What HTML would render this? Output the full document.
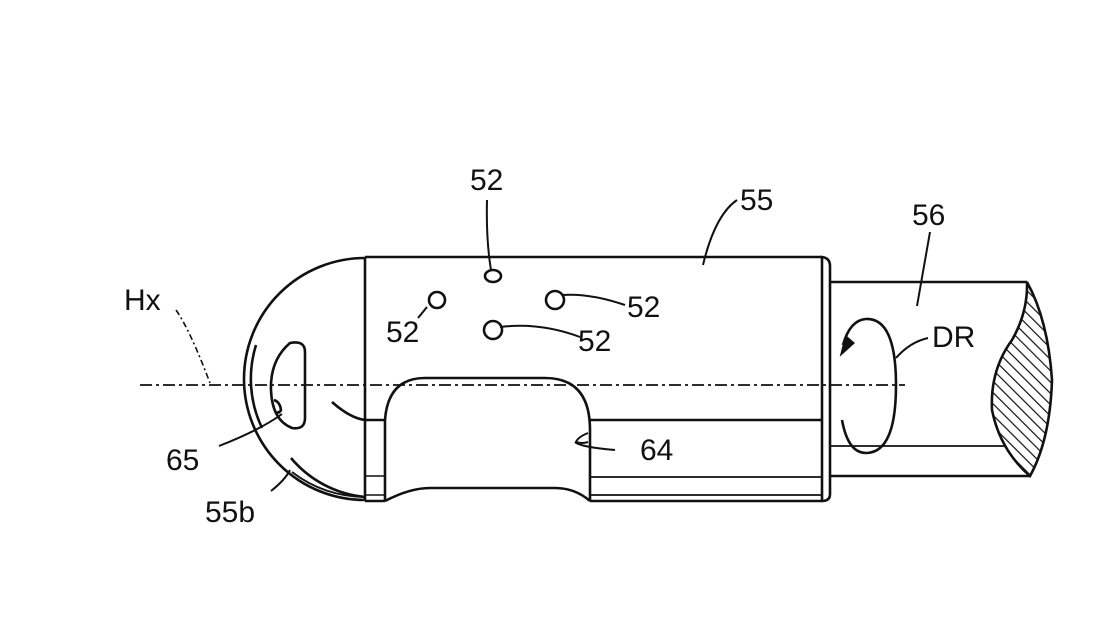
<!DOCTYPE html>
<html><head><style>body{margin:0;background:#fff}svg{display:block}text{font-family:"Liberation Sans",sans-serif;font-size:30px;fill:#111}</style></head><body>
<svg width="1100" height="619" viewBox="0 0 1100 619" xmlns="http://www.w3.org/2000/svg">
<defs><pattern id="h" width="8" height="8" patternUnits="userSpaceOnUse" patternTransform="rotate(-45)"><line x1="0" y1="0" x2="0" y2="8" stroke="#111" stroke-width="2.4"/></pattern></defs>
<g fill="none" stroke="#111" stroke-width="2.6">
<!-- cap -->
<path d="M365 258 A121 121 0 0 0 365 500"/>
<path d="M256 345 A114 114 0 0 0 262 428"/>
<path d="M291 458 A110 110 0 0 0 365 497"/>
<path d="M292 472 A120 120 0 0 0 365 497" stroke-width="1.8"/>
<path d="M332 402 Q350 418 365 420"/>
<path d="M290 343 Q305 340 305 352 L305 418 Q305 430 292 428 Q272 420 271 390 Q270 360 290 343Z"/>
<path d="M274 400 q6 2 7 10 q-2 4 -6 2"/>
<!-- body -->
<line x1="365" y1="257" x2="822" y2="257"/>
<line x1="365" y1="257" x2="365" y2="501"/>
<line x1="365" y1="501" x2="385" y2="501"/>
<line x1="385" y1="420" x2="385" y2="501"/>
<line x1="365" y1="420" x2="385" y2="420"/>
<line x1="365" y1="476" x2="385" y2="476" stroke-width="1.6"/>
<line x1="365" y1="495" x2="385" y2="495" stroke-width="1.6"/>
<path d="M385 420 Q388 378 425 378 L545 378 Q590 378 590 430 L590 501"/>
<path d="M385 501 Q410 488 430 488 L555 488 Q575 488 590 501"/>
<line x1="590" y1="420" x2="822" y2="420"/>
<line x1="590" y1="477" x2="822" y2="477" stroke-width="1.8"/>
<line x1="590" y1="495" x2="822" y2="495" stroke-width="1.8"/>
<line x1="590" y1="501" x2="822" y2="501"/>
<path d="M822 257 Q830 258 830 266 L830 494 Q830 501 822 501 Z"/>
<!-- shaft -->
<line x1="830" y1="282" x2="1027" y2="282"/>
<line x1="830" y1="476" x2="1030" y2="476"/>
<line x1="830" y1="446" x2="1005" y2="446" stroke-width="1.8"/>
<path d="M1027 282 Q1048 320 1052 380 Q1050 440 1030 476 Q1000 450 992 410 Q990 370 1012 340 Q1028 312 1027 282Z" fill="url(#h)"/>
<!-- DR arrow -->
<path d="M843 345 Q850 320 866 319 Q896 318 896 385 Q896 453 866 453 Q848 453 842 420"/>
<path d="M842 353 L846 337 L853 343 Z" fill="#111"/>
<path d="M896 358 Q910 342 928 338" stroke-width="2"/>
<!-- holes -->
<ellipse cx="493" cy="276" rx="8" ry="6"/>
<circle cx="437" cy="300" r="8"/>
<circle cx="555" cy="300" r="9"/>
<circle cx="493" cy="330" r="9"/>
<!-- leaders -->
<g stroke-width="2">
<path d="M487 200 Q486 240 491 270"/>
<path d="M427 307 L418 318"/>
<path d="M562 295 Q590 293 625 305"/>
<path d="M500 327 Q540 322 580 337"/>
<path d="M703 265 Q715 215 737 200"/>
<path d="M917 306 Q925 260 930 232"/>
<path d="M575 442 Q580 447 615 450" />
<path d="M588 433 q-10 4 -12 9 q6 2 12 0"/>
<path d="M219 446 Q260 430 282 414"/>
<path d="M271 491 Q285 480 290 470"/>
</g>
<path d="M176 310 Q190 330 210 383" stroke-width="1.6" stroke-dasharray="6,3,2,3"/>
<line x1="140" y1="385" x2="905" y2="385" stroke-width="1.8" stroke-dasharray="12,4,3,4"/>
</g>
<text x="124" y="310">Hx</text>
<text x="470" y="190">52</text>
<text x="386" y="342">52</text>
<text x="627" y="317">52</text>
<text x="578" y="351">52</text>
<text x="740" y="210">55</text>
<text x="912" y="225">56</text>
<text x="932" y="347">DR</text>
<text x="640" y="460">64</text>
<text x="166" y="470">65</text>
<text x="205" y="522">55b</text>
</svg>
</body></html>
